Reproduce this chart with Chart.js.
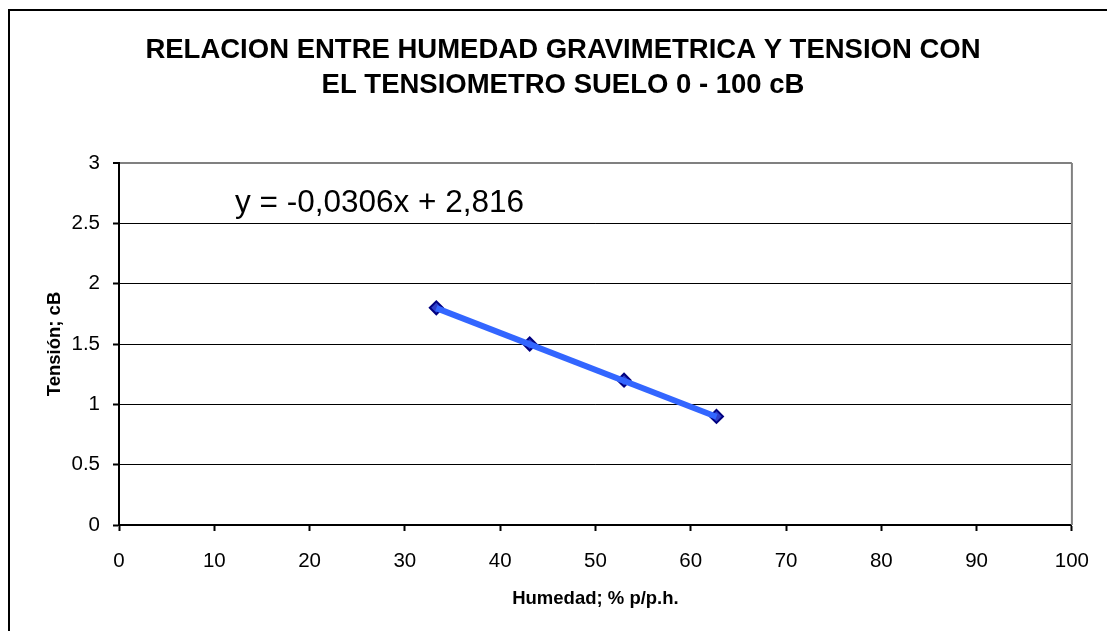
<!DOCTYPE html>
<html>
<head>
<meta charset="utf-8">
<script src="https://cdn.jsdelivr.net/npm/chart.js@4/dist/chart.umd.min.js"></script>
<style>
  html, body { margin: 0; padding: 0; background: #ffffff; }
  #wrap { position: relative; width: 1107px; height: 631px; }
</style>
</head>
<body>
<div id="wrap"><canvas id="c"></canvas></div>
<script>
// ---- data ----
const humedad = [33.3, 43.1, 53.0, 62.7];
const tension = [1.8, 1.5, 1.2, 0.9];
const trendX = [33.3, 62.7];
const trendY = [1.797, 0.897];
const xTicks = [0, 10, 20, 30, 40, 50, 60, 70, 80, 90, 100];
const yTicks = [0, 0.5, 1, 1.5, 2, 2.5, 3];
const titleLines = ['RELACION ENTRE HUMEDAD GRAVIMETRICA Y TENSION CON', 'EL TENSIOMETRO SUELO 0 - 100 cB'];
const xTitle = 'Humedad; % p/p.h.';
const yTitle = 'Tensión; cB';
const equation = 'y = -0,0306x + 2,816';

const FONT = '"Liberation Sans", Arial, sans-serif';

const textPlugin = {
  id: 'texts',
  afterDraw(chart) {
    const ctx = chart.ctx;
    const ca = chart.chartArea;
    ctx.save();
    // outer frame (right/bottom cut off by the picture edge)
    ctx.strokeStyle = '#000000';
    ctx.lineWidth = 2;
    ctx.strokeRect(9, 10, 1120, 640);
    // plot area right border (grey)
    ctx.strokeStyle = '#808080';
    ctx.lineWidth = 2;
    ctx.beginPath();
    ctx.moveTo(ca.right, ca.top);
    ctx.lineTo(ca.right, ca.bottom);
    ctx.stroke();
    // title
    ctx.fillStyle = '#000000';
    ctx.textAlign = 'center';
    ctx.textBaseline = 'middle';
    ctx.font = 'bold 27.5px ' + FONT;
    ctx.fillText(titleLines[0], 563, 50);
    ctx.fillText(titleLines[1], 563, 85);
    // axis titles
    ctx.font = 'bold 18.5px ' + FONT;
    ctx.fillText(xTitle, (ca.left + ca.right) / 2, 598.5);
    ctx.save();
    ctx.translate(55, (ca.top + ca.bottom) / 2);
    ctx.rotate(-Math.PI / 2);
    ctx.fillText(yTitle, 0, 0);
    ctx.restore();
    // equation
    ctx.font = '31.5px ' + FONT;
    ctx.textAlign = 'left';
    ctx.fillText(equation, 235, 203);
    ctx.restore();
  }
};

new Chart(document.getElementById('c'), {
  type: 'scatter',
  data: {
    datasets: [
      {
        label: 'Tendencia',
        data: trendX.map((x, i) => ({ x: x, y: trendY[i] })),
        showLine: true,
        borderColor: '#3366FF',
        borderWidth: 6,
        pointRadius: 0,
        order: 0
      },
      {
        label: 'Tensión',
        data: humedad.map((x, i) => ({ x: x, y: tension[i] })),
        showLine: false,
        pointStyle: 'rectRot',
        pointRadius: 6.5,
        pointBackgroundColor: '#2F3FC8',
        pointBorderColor: '#000080',
        pointBorderWidth: 2,
        order: 1
      }
    ]
  },
  options: {
    responsive: true,
    maintainAspectRatio: false,
    animation: false,
    layout: { padding: { left: 0, right: 34, top: 163, bottom: 0 } },
    plugins: {
      legend: { display: false },
      title: { display: false },
      tooltip: { enabled: false }
    },
    scales: {
      x: {
        type: 'linear',
        min: 0,
        max: 100,
        afterBuildTicks(scale) { scale.ticks = xTicks.map(v => ({ value: v })); },
        afterFit(scale) { scale.height = 106; },
        ticks: {
          color: '#000000',
          font: { family: FONT, size: 20.5 },
          padding: 18,
          maxRotation: 0,
          autoSkip: false,
          callback: (v) => String(v)
        },
        grid: {
          drawOnChartArea: false,
          drawTicks: true,
          tickLength: 6,
          tickColor: '#000000',
          tickWidth: 2
        },
        border: { display: true, color: '#000000', width: 2 }
      },
      y: {
        type: 'linear',
        min: 0,
        max: 3,
        afterBuildTicks(scale) { scale.ticks = yTicks.map(v => ({ value: v })); },
        afterFit(scale) { scale.width = 119; },
        ticks: {
          color: '#000000',
          font: { family: FONT, size: 20.5 },
          padding: 13,
          autoSkip: false,
          callback: (v) => String(v)
        },
        grid: {
          drawTicks: true,
          tickLength: 6,
          tickColor: '#000000',
          tickWidth: 2,
          color: (c) => (c.tick && c.tick.value === 3) ? '#808080' : '#000000',
          lineWidth: (c) => (c.tick && c.tick.value === 3) ? 2 : 1
        },
        border: { display: true, color: '#000000', width: 2 }
      }
    }
  },
  plugins: [textPlugin]
});
</script>
</body>
</html>
